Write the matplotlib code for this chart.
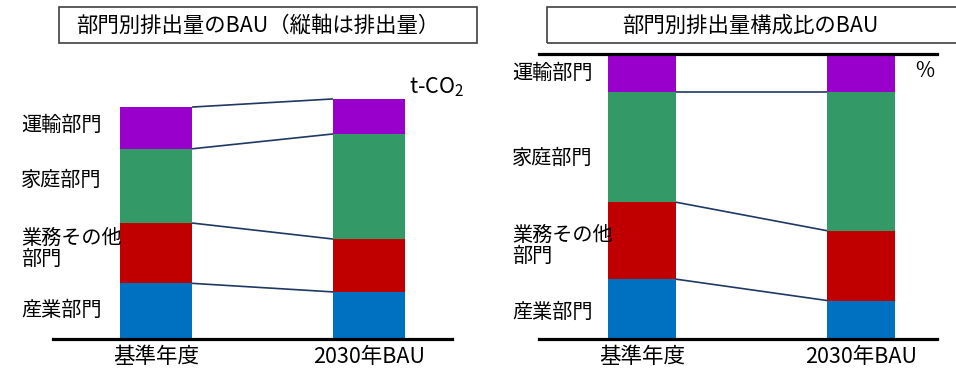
import matplotlib
matplotlib.use("Agg")
import matplotlib.pyplot as plt
from matplotlib.patches import Rectangle
import numpy as np

plt.rcParams['font.family'] = ['Noto Sans CJK JP', 'DejaVu Sans']

# ---- data ----
periods = ["基準年度", "2030年BAU"]
sectors = ["産業部門", "業務その他\n部門", "家庭部門", "運輸部門"]   # bottom -> top
colors = ["#0070c0", "#c00000", "#339966", "#9900cc"]

# emissions (index, base year total = 100)
emis_base = [24.0, 26.0, 32.0, 18.0]
emis_2030 = [20.3, 22.8, 45.3, 15.1]

# composition ratio (%)
share_base = [21.0, 27.0, 38.5, 13.5]
share_2030 = [13.5, 24.5, 48.5, 13.5]

line_color = "#1f3864"
W, H = 956, 372
fig = plt.figure(figsize=(W / 100, H / 100), dpi=100)


def fx(px):
    return px / W


def fy(py):
    return 1 - py / H


def stacked(ax, series, width, connect_top=True):
    x = np.arange(len(periods))
    bottoms = np.zeros(len(periods))
    bounds = [bottoms.copy()]
    for i, col in enumerate(colors):
        vals = np.array([s[i] for s in series])
        ax.bar(x, vals, width, bottom=bottoms, color=col, linewidth=0, zorder=2)
        bottoms = bottoms + vals
        bounds.append(bottoms.copy())
    # connector lines between the two bars at each segment boundary
    last = len(bounds) if connect_top else len(bounds) - 1
    for b in bounds[1:last]:
        ax.plot([x[0] + width / 2, x[1] - width / 2], [b[0], b[1]],
                color=line_color, lw=1.2, zorder=3, solid_capstyle='butt')
    ax.set_xticks(x)
    ax.set_xticklabels(periods, fontsize=15.5)
    ax.tick_params(axis='x', length=0, pad=5)
    ax.set_yticks([])
    for s in ax.spines.values():
        s.set_visible(False)
    ax.spines['bottom'].set_visible(True)
    ax.spines['bottom'].set_linewidth(2.3)
    ax.spines['bottom'].set_color("black")
    ax.patch.set_alpha(0)


# ---- left panel: emissions ----
axL = fig.add_axes([fx(53), fy(339), fx(399), 289 / H])
stacked(axL, [emis_base, emis_2030], 0.338, connect_top=True)
axL.set_xlim(-0.484, 1.39)
axL.set_ylim(0, 124.6)

# ---- right panel: composition ----
axR = fig.add_axes([fx(539), fy(339), fx(398), 285 / H])
stacked(axR, [share_base, share_2030], 0.31, connect_top=False)
axR.set_xlim(-0.47, 1.347)
axR.set_ylim(0, 100)
axR.spines['top'].set_visible(True)
axR.spines['top'].set_linewidth(2.3)
axR.spines['top'].set_color("black")

# ---- title boxes ----
for (x0, x1) in [(59, 477), (547, 958)]:
    fig.patches.append(Rectangle((fx(x0), fy(43)), fx(x1 - x0), 36 / H,
                                 transform=fig.transFigure, fill=False,
                                 edgecolor="#404040", linewidth=1.2))
for (cx, title) in [(258, "部門別排出量のBAU（縦軸は排出量）"),
                    (750, "部門別排出量構成比のBAU")]:
    fig.text(fx(cx), fy(26), title, ha='center', va='center', fontsize=15.4)

# ---- sector labels ----
label_y_left = [310, 249, 180, 125]
label_y_right = [312, 246, 158, 73]
for lab, y in zip(sectors, label_y_left):
    fig.text(fx(21), fy(y), lab, ha='left', va='center', fontsize=14.5,
             linespacing=1.05)
for lab, y in zip(sectors, label_y_right):
    fig.text(fx(512), fy(y), lab, ha='left', va='center', fontsize=14.5,
             linespacing=1.05)

# ---- units ----
fig.text(fx(409), fy(87), r"t-CO$_{\mathregular{2}}$", ha='left', va='center',
         fontsize=15.5)
fig.text(fx(915), fy(71), "%", ha='left', va='center', fontsize=15)

fig.savefig("out.png", dpi=100)
